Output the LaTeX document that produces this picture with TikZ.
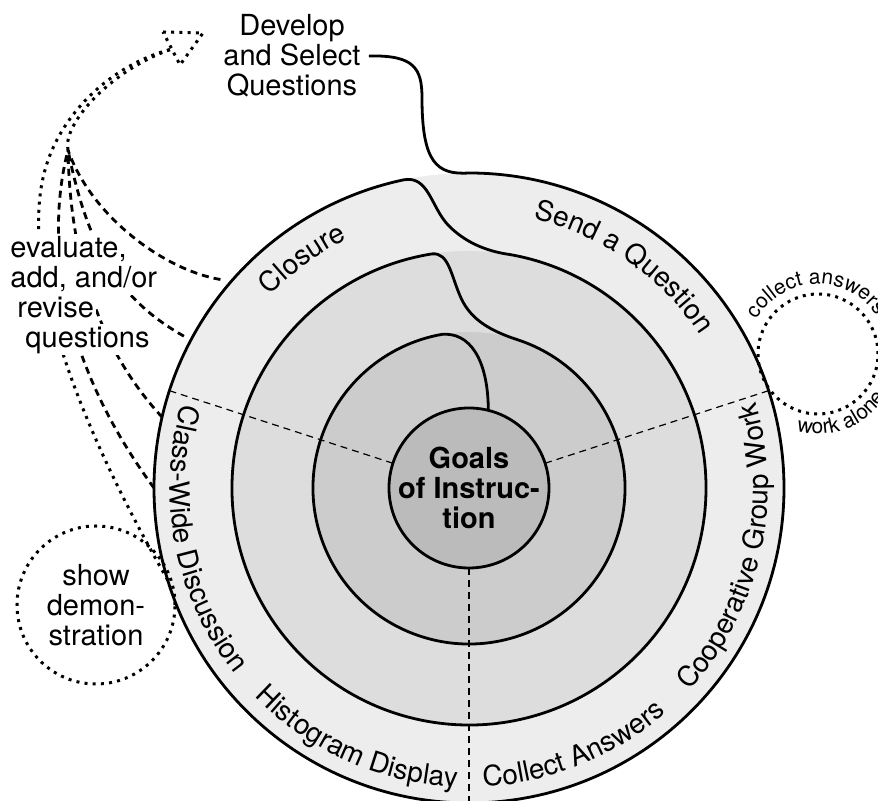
\documentclass[tikz,border=0pt]{standalone}
\usepackage{fontspec}
\setmainfont{TeX Gyre Heros}
\usetikzlibrary{decorations.text}
\newcommand{\bigtext}{\fontsize{14.5}{15}\selectfont}
\newcommand{\ringtext}{\fontsize{14}{14}\selectfont}
\newcommand{\smalltext}{\fontsize{10.5}{11}\selectfont}
% white backing behind each text line, so the lines behind it are hidden
\newcommand{\wl}[1]{\smash{\setlength{\fboxsep}{0pt}\colorbox{white}{\vrule height 11.5pt depth 4pt width 0pt\kern1pt #1\kern1pt}}}

\begin{document}
\begin{tikzpicture}
  [
    x=0.5pt, y=0.5pt,
    Band/.style={circle, inner sep=0, outer sep=0},
    Goal/.style={circle, draw=black, fill=gray!53, line width=1.4pt, minimum size=80pt, inner sep=0, outer sep=0},
    GoalText/.style={font=\bigtext\bfseries, align=center},
    Label/.style={font=\bigtext, align=center, inner sep=0},
    Loop/.style={circle, Dots, minimum size=#1, inner sep=0},
    Spiral/.style={draw=black, line width=1.4pt},
    Divider/.style={draw=black, line width=0.6pt, dash pattern=on 3.5pt off 2.5pt},
    Dashes/.style={draw=black, line width=1.4pt, dash pattern=on 3.5pt off 2.5pt},
    Dots/.style={draw=black, line width=1.5pt, dash pattern=on 1.5pt off 2.6pt},
    Outer/.style={decorate, decoration={text along path, text align=center, text={|\ringtext|#1}}},
    Small/.style={decorate, decoration={text along path, text align=center, text={|\smalltext|#1}}}
  ]
  \useasboundingbox (-469,-313) rectangle (409,488);
  % Bands
  \node[Band, minimum size=315pt, fill=gray!14] (rim) at (0,0) {};
  \node[Band, minimum size=237pt, fill=gray!27] (mid) at (0,0) {};
  \node[Band, minimum size=156pt, fill=gray!40] (core) at (0,0) {};
  % Nodes
  \node[Goal, label={[GoalText]center:{Goals\\of Instruc-\\tion}}] (goals) at (0,0) {};
  \node[Label] (dev) at (-177,432) {Develop\\and Select\\Questions};
  \node[Loop=79pt, Label] (demo) at (-373,-117) {show\\demon-\\stration};
  \node[Loop=60pt] (alone) at (349,134) {};
  \coordinate (meet) at (-401,338);
  \coordinate (head) at (-297,439);
  % Dividers
  \foreach \a in {18,162,270}
    \path[Divider] (goals.\a) -- (rim.\a);
  % Spiral
  \path[Spiral] ([xshift=4pt]dev.east) .. controls (-55,433) and (-47,420) .. (-47,390)
    .. controls (-47,325) and (-32,313) .. (0,315)
    arc[start angle=90, end angle=-258, radius=315]
    .. controls (-40,313) and (-38,280) .. (-20,262)
    .. controls (-5,247) and (15,237) .. (80:237)
    arc[start angle=80, end angle=-261, radius=237]
    .. controls (-20,236) and (-18,212) .. (-8,190)
    .. controls (2,168) and (22,157) .. (72:156)
    arc[start angle=72, end angle=-260, radius=156]
    .. controls (0,156) and (19,130) .. (goals.76);
  % Lines
  \path[Dashes, shorten <=5.5pt] (rim.139.5) .. controls (-305,218) and (-378,272) .. (meet);
  \path[Dashes, shorten <=4pt] (rim.152) .. controls (-349,188) and (-381,238) .. (meet);
  \path[Dashes] (rim.167) .. controls (-369,138) and (-399,228) .. (meet);
  \path[Dashes] (rim.180) .. controls (-409,128) and (-424,248) .. (meet);
  \path[Dots] (rim.197) .. controls (-400,80) and (-449,228) .. (-424,318)
    .. controls (-409,373) and (-359,423) .. (head);
  \path[Dots] (meet) .. controls (-407,363) and (-359,418) .. (head);
  \path[Dots] (-306,456) -- (-266,455) -- (-289,423) -- cycle;
  \node[Label, align=left, anchor=north west] (eval) at (-461,231)
    {\wl{evaluate,}\\\wl{add, and/or}\\\hspace*{3.5pt}\wl{revise}\\\hspace*{7.5pt}\wl{questions}};
  % Ring texts
  \path[Outer={Closure}] (156:277) arc[start angle=156, end angle=96, radius=277];
  \path[Outer={Send a Question}] (85:277) arc[start angle=85, end angle=25, radius=277];
  \path[Outer={Class-Wide Discussion}] (151:299) arc[start angle=151, end angle=231, radius=299];
  \path[Outer={Histogram Display}] (206:299) arc[start angle=206, end angle=286, radius=299];
  \path[Outer={Collect Answers}] (252:299) arc[start angle=252, end angle=332, radius=299];
  \path[Outer={Cooperative Group Work}] (307:299) arc[start angle=307, end angle=387, radius=299];
  \path[Small={collect answers}] ([shift={(172:70)}]alone.center) arc[start angle=172, end angle=12, radius=70];
  \path[Small={work alone}] ([shift={(231:80)}]alone.center) arc[start angle=231, end angle=351, radius=80];
\end{tikzpicture}
\end{document}
